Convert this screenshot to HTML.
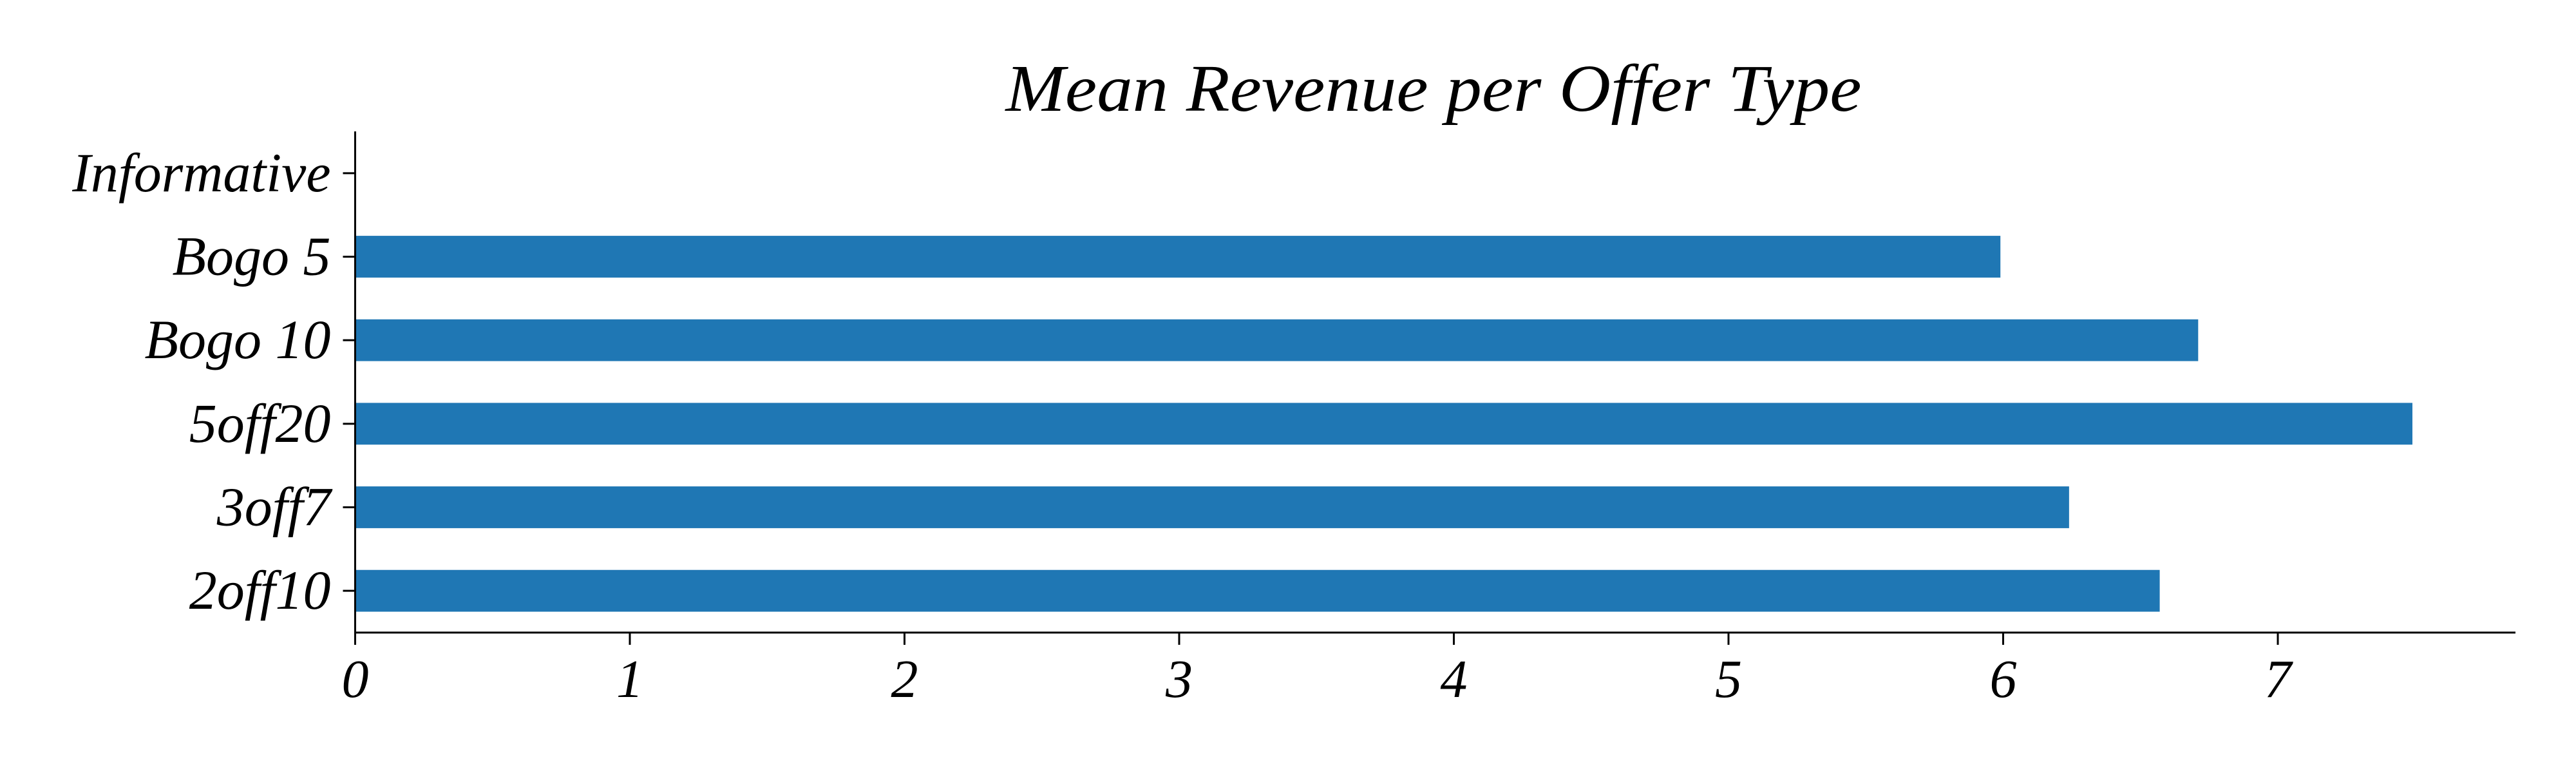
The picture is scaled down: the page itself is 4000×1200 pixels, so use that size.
<!DOCTYPE html>
<html><head><meta charset="utf-8"><style>html,body{margin:0;padding:0;background:#fff}svg{display:block}text{font-family:"Liberation Serif",serif;font-style:italic;fill:#000}</style></head>
<body>
<svg id="chart" width="4000" height="1200" viewBox="0 0 4000 1200" xmlns="http://www.w3.org/2000/svg">
<rect width="4000" height="1200" fill="#fff"/>
<text x="2226" y="172" font-size="104" text-anchor="middle" textLength="1329" lengthAdjust="spacingAndGlyphs">Mean Revenue per Offer Type</text>
<g id="bars"></g><g id="axes"></g>
</svg>
<script>
const categories = ["2off10","3off7","5off20","Bogo 10","Bogo 5","Informative"];
const values = [6.57, 6.24, 7.49, 6.71, 5.99, 0];
const xTicks = [0,1,2,3,4,5,6,7];
const xTickLabels = ["0","1","2","3","4","5","6","7"];
const NS="http://www.w3.org/2000/svg";
const x0=551.5, unit=426.5, yTop=204, yBot=982, xEnd=3906;
const band=(yBot-yTop)/categories.length;
function xs(v){return x0+v*unit;}
function ys(i){return yBot-band*(i+0.5);}
function mk(t,a,p){const e=document.createElementNS(NS,t);for(const k in a)e.setAttribute(k,a[k]);p.appendChild(e);return e;}
const bars=document.getElementById('bars'), axes=document.getElementById('axes');
categories.forEach((c,i)=>{
  const h=band*0.5;
  const r=mk('rect',{x:xs(0),y:ys(i)-h/2,width:Math.max(0,xs(values[i])-xs(0)),height:h,fill:'#1f77b4'},bars);
  
  
  const t=mk('line',{x1:xs(0)-19,x2:xs(0),y1:ys(i),y2:ys(i),stroke:'#000','stroke-width':3},axes);
  
  
  const l=mk('text',{x:xs(0)-38,y:ys(i)+28,'font-size':86,'text-anchor':'end'},axes);
  l.textContent=c;
  
  
});
xTicks.forEach((v,i)=>{
  const t=mk('line',{x1:xs(v),x2:xs(v),y1:yBot,y2:yBot+19,stroke:'#000','stroke-width':3},axes);
  
  
  const l=mk('text',{x:xs(v),y:yBot+100,'font-size':84,'text-anchor':'middle'},axes);
  l.textContent=xTickLabels[i];
  
  
});
const ls=mk('line',{x1:xs(0),x2:xs(0),y1:yTop,y2:yBot+1.5,stroke:'#000','stroke-width':3},axes);


const bs=mk('line',{x1:xs(0)-1.5,x2:xEnd,y1:yBot,y2:yBot,stroke:'#000','stroke-width':3},axes);


</script>
</body></html>
